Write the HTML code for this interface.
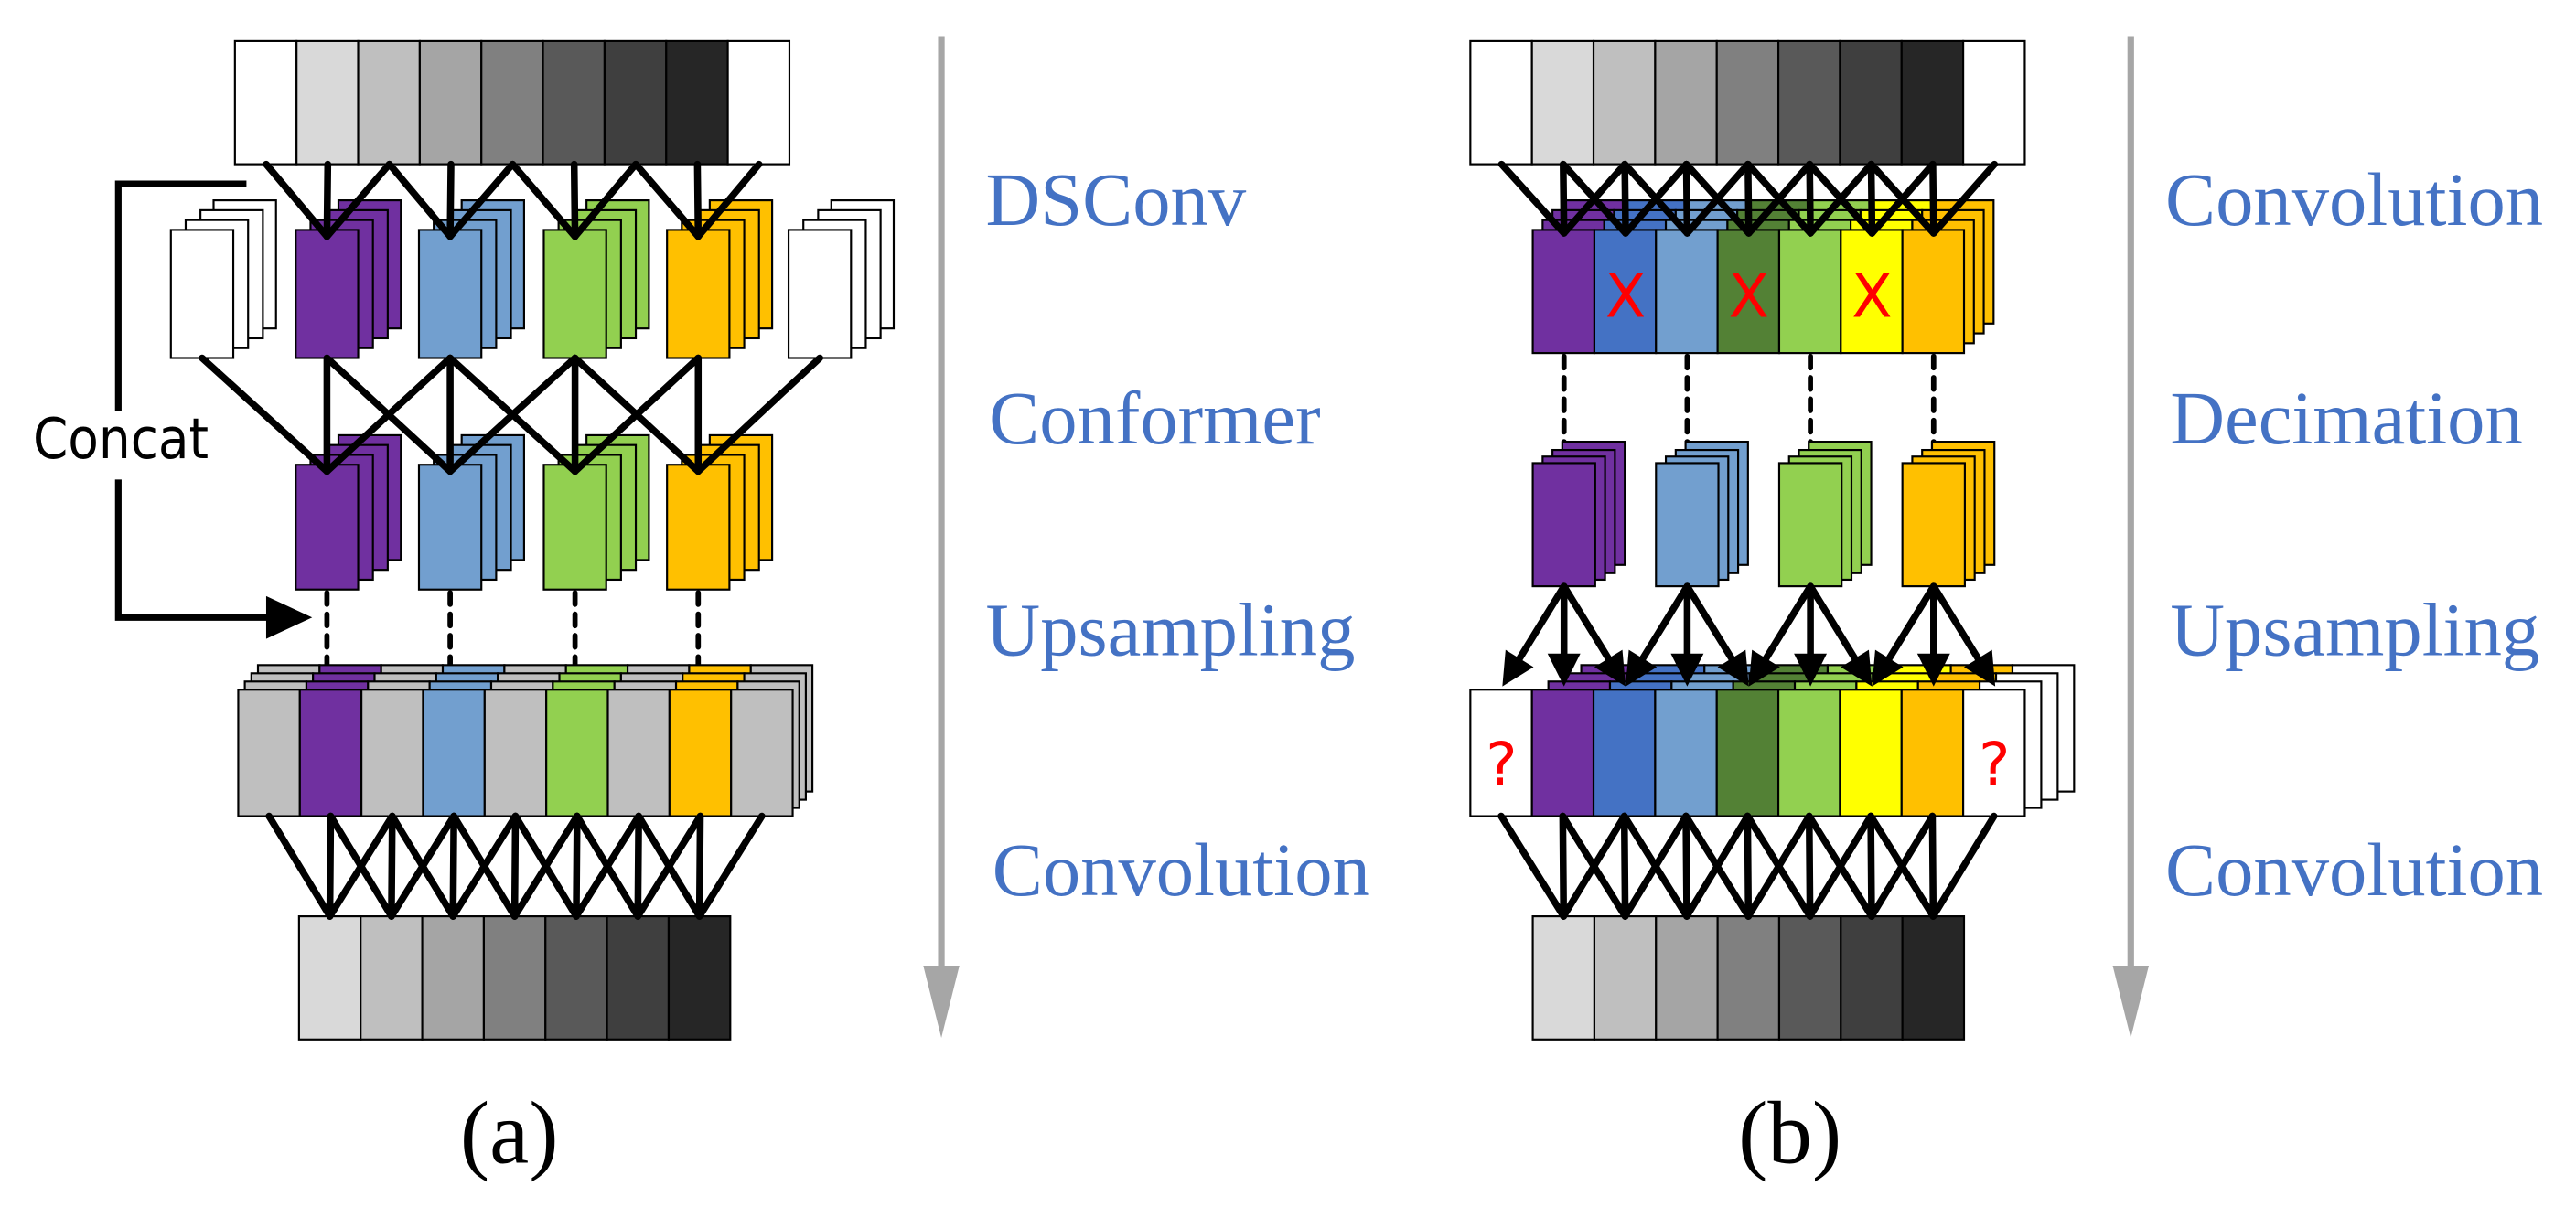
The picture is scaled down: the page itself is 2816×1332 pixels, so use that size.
<!DOCTYPE html>
<html><head><meta charset="utf-8"><style>
html,body{margin:0;padding:0;background:#fff;}
svg{display:block;}
.lab{font-family:"Liberation Serif",serif;fill:#4472c4;font-size:46px;}
.cap{font-family:"Liberation Serif",serif;fill:#000;font-size:54px;}
</style></head><body>
<svg id="s" width="2816" height="1332" viewBox="0 0 1568 741.7" xmlns="http://www.w3.org/2000/svg">
<g id="g"></g>
<text class="lab" x="600" y="137">DSConv</text>
<text class="lab" x="602" y="270">Conformer</text>
<text class="lab" x="600" y="399">Upsampling</text>
<text class="lab" x="604" y="545">Convolution</text>
<text class="lab" x="1318" y="137">Convolution</text>
<text class="lab" x="1321" y="270">Decimation</text>
<text class="lab" x="1321" y="399">Upsampling</text>
<text class="lab" x="1318" y="545">Convolution</text>
<text class="cap" x="280" y="708">(a)</text>
<text class="cap" x="1058" y="708">(b)</text>
<text x="20" y="279" style="font-family:'DejaVu Sans Condensed','DejaVu Sans',sans-serif;font-size:34px;fill:#000">Concat</text>
</svg>
<script>
const g=document.getElementById('g');let h='';
const W=37.5;
const grey=['#fff','#d9d9d9','#bfbfbf','#a5a5a5','#808080','#595959','#3f3f3f','#262626','#fff'];
const P='#7030a0',B='#4472c4',LB='#729fcf',DG='#538135',G='#92d050',Y='#ffff00',O='#ffc000';
function r(x,y,w,hh,f,sw){h+=`<rect x="${x}" y="${y}" width="${w}" height="${hh}" fill="${f}" stroke="#000" stroke-width="${sw||1.2}"/>`;}
function l(x1,y1,x2,y2,sw,extra){h+=`<line x1="${x1}" y1="${y1}" x2="${x2}" y2="${y2}" stroke="#000" stroke-width="${sw||4.2}" stroke-linecap="round" ${extra||''}/>`;}
function stack(x,y,w,hh,f,offs){for(let i=offs.length-1;i>=0;i--)r(x+offs[i][0],y+offs[i][1],w,hh,f);r(x,y,w,hh,f);}
const so=[[9,-6],[18,-12],[26,-18]];
function bar(x,y,cols){cols.forEach((c,i)=>r(x+i*W,y,W,75,c));}
bar(143,25,grey);
const ax=[180,255,331,406];const ac=[P,LB,G,O];
stack(104,140,38,78,'#fff',so);stack(480,140,38,78,'#fff',so);
ax.forEach((x,i)=>stack(x,140,38,78,ac[i],so));
const tc=i=>162+W*i;
[[0,199],[1,199],[2,199],[2,274],[3,274],[4,274],[4,350],[5,350],[6,350],[6,425],[7,425],[8,425]].forEach(([k,t])=>l(tc(k),100,t,144));
ax.forEach((x,i)=>stack(x,283,38,76,ac[i],so));
[[123,199],[199,199],[199,274],[274,199],[274,274],[274,350],[350,274],[350,350],[350,425],[425,350],[425,425],[499,425]].forEach(([a,b])=>l(a,218,b,287));
[199,274,350,425].forEach(x=>l(x,361,x,418,3.2,'stroke-dasharray="7,6" stroke-linecap="butt"'));
h+=`<polyline points="150,112 72,112 72,250" fill="none" stroke="#000" stroke-width="4"/>`;
h+=`<polyline points="72,292 72,376 165,376" fill="none" stroke="#000" stroke-width="4"/>`;
h+=`<path d="M162,363 L190,376 L162,389 z" fill="#000"/>`;
const ua=['#bfbfbf',P,'#bfbfbf',LB,'#bfbfbf',G,'#bfbfbf',O,'#bfbfbf'];
[[12,-15],[8,-10],[4,-5]].forEach(o=>ua.forEach((c,i)=>r(145+o[0]+i*W,420+o[1],W,77,c)));
ua.forEach((c,i)=>r(145+i*W,420,W,77,c));
bar(182,558,grey.slice(1,8));
function conv(x0,yt,xb,yb){for(let j=0;j<7;j++)for(let k=j;k<j+3;k++)l(x0+W*(k+0.5),yt,xb+W*(j+0.5),yb);}
conv(145,497,182,558);
function garrow(x){h+=`<line x1="${x}" y1="22" x2="${x}" y2="595" stroke="#a6a6a6" stroke-width="4"/><path d="M${x-11},588 L${x+11},588 L${x},632 z" fill="#a6a6a6"/>`;}
garrow(573);garrow(1297);
bar(895,25,grey);
const cb=[P,B,LB,DG,G,Y,O];
[[18,-18],[12,-12],[6,-6]].forEach(o=>cb.forEach((c,i)=>r(933+o[0]+i*W,140+o[1],W,75,c)));
cb.forEach((c,i)=>r(933+i*W,140,W,75,c));
const bc=j=>952+W*j;
for(let j=0;j<7;j++)for(let k=j;k<j+3;k++)l(914+W*k,100,bc(j),142);
[[1,'X'],[3,'X'],[5,'X']].forEach(([j,t])=>h+=`<text x="${bc(j)}" y="193" text-anchor="middle" style="font-family:'DejaVu Sans',sans-serif;font-size:36px;fill:#ff0000">${t}</text>`);
[0,2,4,6].forEach(j=>l(bc(j),217,bc(j),280,3.2,'stroke-dasharray="7,6" stroke-linecap="butt"'));
[0,2,4,6].forEach(j=>stack(933+W*j,282,38,75,cb[j],[[6,-4],[12,-8],[18,-13]]));
const ub=['#fff',P,B,LB,DG,G,Y,O,'#fff'];
[[30,-15],[20,-10],[10,-5]].forEach(o=>{ub.forEach((c,i)=>{if(i==0&&o[0]>0)return;r(895+o[0]+i*W,420+o[1],W,77,c)});});
ub.forEach((c,i)=>r(895+i*W,420,W,77,c));
[0,8].forEach(i=>h+=`<text x="${914+W*i}" y="478" text-anchor="middle" style="font-family:'DejaVu Sans',sans-serif;font-size:36px;fill:#ff0000">?</text>`);
[0,2,4,6].forEach(j=>{[-1,0,1].forEach(d=>{const x2=bc(j+d),y2=418;const x1=bc(j),y1=357;const dx=x2-x1,dy=y2-y1,L=Math.hypot(dx,dy),ux=dx/L,uy=dy/L;
l(x1,y1,x2-ux*14,y2-uy*14);h+=`<path d="M${x2},${y2} L${x2-ux*20-uy*10},${y2-uy*20+ux*10} L${x2-ux*20+uy*10},${y2-uy*20-ux*10} z" fill="#000"/>`;});});
bar(933,558,grey.slice(1,8));
conv(895,497,933,558);
g.innerHTML=h;
</script>
</body></html>
